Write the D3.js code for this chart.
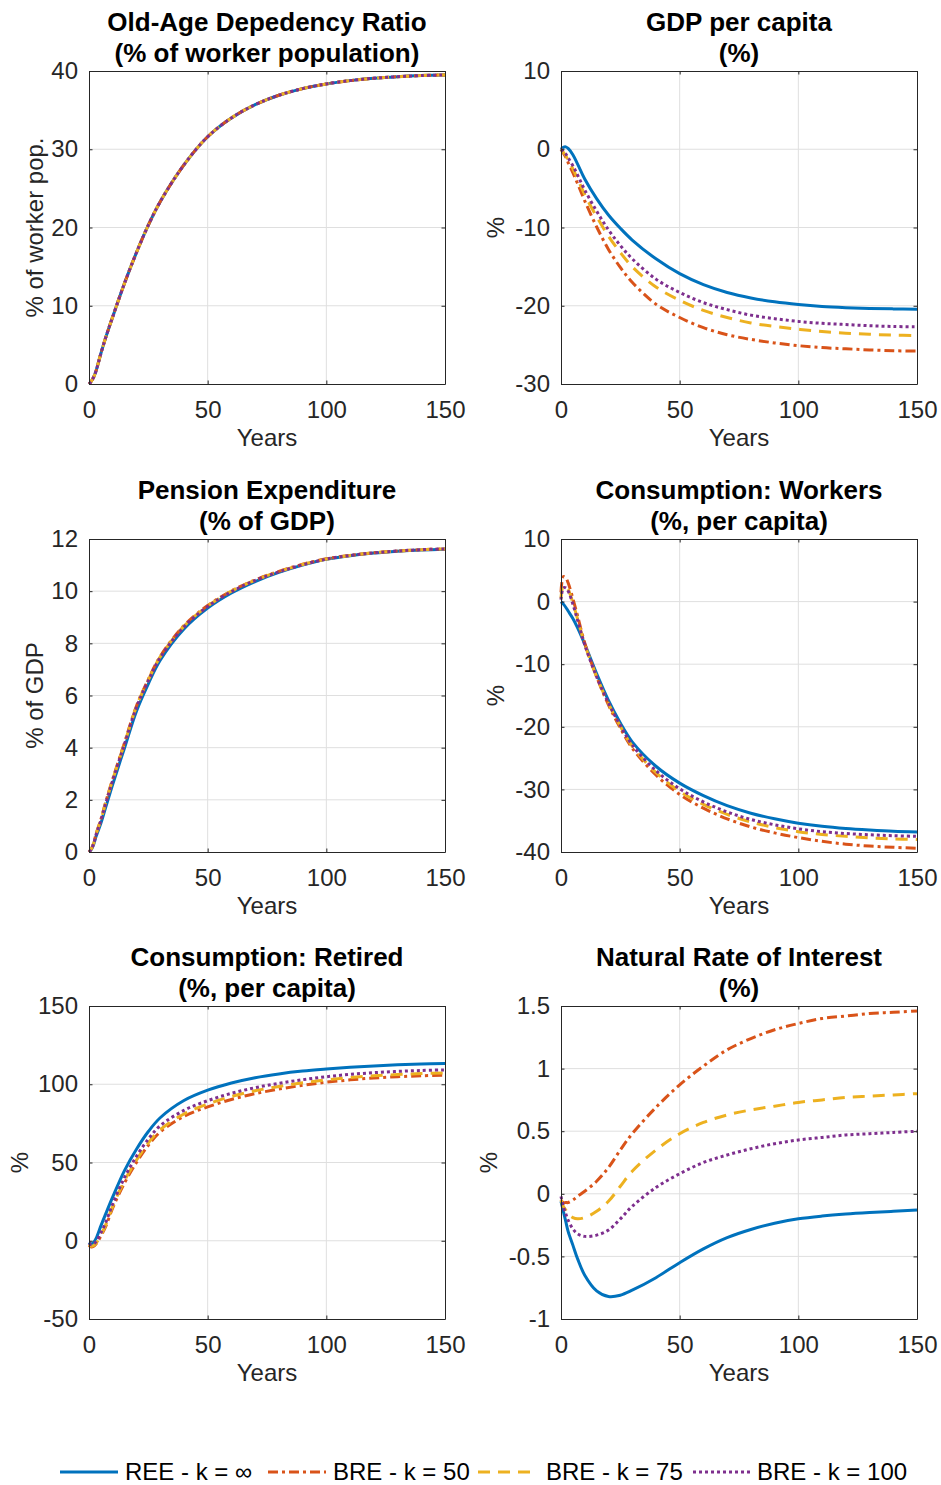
<!DOCTYPE html>
<html>
<head>
<meta charset="utf-8">
<script src="https://cdn.jsdelivr.net/npm/d3@7"></script>
<style>
  body { margin: 0; background: #fff; }
  text { font-family: "Liberation Sans", Arial, sans-serif; }
</style>
</head>
<body>
<div id="chart"></div>
<script>
////////////////////////////////////////////////////////////////////////
// data (years after the shock)

let years = [0, 1, 2, 3, 5, 7, 10, 15, 20, 25, 30, 40, 50, 60, 70, 80, 90, 100, 110, 120, 130, 140, 150];
let xTicks = [0, 50, 100, 150];
let seriesNames = ["REE - k = \u221E", "BRE - k = 50", "BRE - k = 75", "BRE - k = 100"];

// old-age dependency ratio, same path for every model
let oldAge = [0, 0.35, 0.9, 1.7, 3.9, 5.9, 8.6, 12.9, 16.8, 20.3, 23.3, 28.0, 31.6, 34.0, 35.7, 36.9, 37.75, 38.35, 38.77, 39.07, 39.27, 39.41, 39.5];

// gdp per capita
let gdpREE = [0, 0.25, 0.3, 0.1, -0.7, -1.9, -3.8, -6.3, -8.4, -10.1, -11.6, -14.0, -15.9, -17.3, -18.3, -19.0, -19.5, -19.85, -20.1, -20.25, -20.35, -20.4, -20.45];
let gdp50 = [0, -0.5, -1.0, -1.7, -3.0, -4.4, -6.6, -9.9, -12.8, -15.1, -17.0, -19.8, -21.5, -22.8, -23.7, -24.3, -24.75, -25.1, -25.35, -25.5, -25.65, -25.75, -25.8];
let gdp75 = [0, -0.4, -0.8, -1.4, -2.5, -3.8, -5.8, -8.6, -11.1, -13.2, -15.0, -17.6, -19.3, -20.6, -21.5, -22.2, -22.65, -23.0, -23.3, -23.5, -23.65, -23.75, -23.8];
let gdp100 = [0, -0.3, -0.6, -1.1, -2.1, -3.3, -5.2, -7.9, -10.3, -12.3, -14.0, -16.6, -18.3, -19.6, -20.5, -21.2, -21.65, -22.0, -22.25, -22.4, -22.55, -22.65, -22.7];

// pension expenditure
let penREE = [0, 0.1, 0.3, 0.6, 1.1, 1.7, 2.6, 4.0, 5.4, 6.45, 7.35, 8.55, 9.35, 9.93, 10.37, 10.72, 11.0, 11.22, 11.36, 11.46, 11.53, 11.58, 11.61];
let pen50 = [0, 0.12, 0.35, 0.7, 1.25, 1.9, 2.8, 4.2, 5.6, 6.62, 7.5, 8.68, 9.45, 10.01, 10.43, 10.76, 11.03, 11.24, 11.37, 11.47, 11.54, 11.59, 11.62];
let pen75 = [0, 0.12, 0.34, 0.69, 1.23, 1.88, 2.78, 4.18, 5.58, 6.6, 7.48, 8.66, 9.43, 10.0, 10.42, 10.75, 11.02, 11.23, 11.37, 11.47, 11.54, 11.59, 11.62];
let pen100 = [0, 0.11, 0.33, 0.67, 1.21, 1.85, 2.75, 4.15, 5.55, 6.57, 7.45, 8.63, 9.41, 9.98, 10.41, 10.74, 11.01, 11.23, 11.37, 11.47, 11.54, 11.59, 11.62];

// consumption of workers
let cwREE = [0, -0.4, -0.9, -1.5, -2.7, -4.2, -6.8, -11.5, -15.8, -19.4, -22.4, -26.3, -29.0, -31.0, -32.6, -33.8, -34.7, -35.4, -35.9, -36.25, -36.5, -36.7, -36.8];
let cw50 = [1.5, 4.0, 3.8, 3.0, 0.5, -2.3, -6.6, -12.0, -16.5, -20.2, -23.4, -27.7, -30.8, -33.0, -34.7, -36.0, -36.95, -37.7, -38.3, -38.75, -39.05, -39.25, -39.4];
let cw75 = [0.5, 2.6, 2.5, 2.0, -0.2, -2.8, -6.8, -12.0, -16.3, -19.9, -23.1, -27.3, -30.3, -32.4, -34.0, -35.2, -36.1, -36.75, -37.2, -37.5, -37.75, -37.9, -38.0];
let cw100 = [0.3, 2.2, 2.2, 1.7, -0.4, -3.0, -6.9, -12.0, -16.2, -19.8, -22.9, -27.0, -29.9, -32.0, -33.6, -34.8, -35.65, -36.3, -36.75, -37.05, -37.25, -37.4, -37.5];

// consumption of retired
let crREE = [-1, -2, -1, 1.5, 9.5, 17, 28, 45, 58.5, 69.8, 78.6, 89.6, 96.2, 100.8, 104.2, 106.6, 108.4, 109.7, 110.8, 111.7, 112.4, 112.9, 113.2];
let cr50 = [-3, -4, -3.5, -2, 3, 9, 21, 37, 50, 61, 69.5, 79.5, 85.5, 90.3, 94, 96.9, 99.3, 101.3, 102.8, 104, 104.8, 105.4, 105.8];
let cr75 = [-2.5, -3.5, -3, -1.5, 3.5, 10, 22, 38.5, 51.5, 62.5, 71, 81, 87.3, 92.2, 95.8, 98.6, 100.9, 102.8, 104.3, 105.4, 106.2, 106.8, 107.2];
let cr100 = [-1.5, -2.5, -2, -0.5, 5, 11.5, 23.5, 40.5, 54, 65, 73.5, 83.3, 89.5, 94.2, 97.8, 100.6, 102.9, 104.8, 106.3, 107.4, 108.2, 108.8, 109.2];

// natural rate of interest
let rREE = [-0.06, -0.14, -0.22, -0.3, -0.41, -0.52, -0.65, -0.775, -0.82, -0.81, -0.77, -0.67, -0.55, -0.44, -0.35, -0.285, -0.235, -0.2, -0.178, -0.162, -0.15, -0.14, -0.13];
let r50 = [-0.05, -0.07, -0.07, -0.07, -0.05, -0.02, 0.02, 0.1, 0.21, 0.35, 0.48, 0.69, 0.87, 1.02, 1.15, 1.24, 1.31, 1.36, 1.4, 1.42, 1.44, 1.45, 1.46];
let r75 = [-0.05, -0.1, -0.13, -0.16, -0.19, -0.2, -0.19, -0.14, -0.06, 0.06, 0.18, 0.35, 0.48, 0.57, 0.63, 0.67, 0.7, 0.73, 0.75, 0.77, 0.78, 0.79, 0.8];
let r100 = [-0.02, -0.1, -0.16, -0.21, -0.28, -0.32, -0.34, -0.33, -0.29, -0.2, -0.1, 0.05, 0.16, 0.25, 0.31, 0.36, 0.4, 0.43, 0.45, 0.47, 0.48, 0.49, 0.5];

// y ticks of each panel
let ticksOld = [0, 10, 20, 30, 40];
let ticksGdp = [-30, -20, -10, 0, 10];
let ticksPen = [0, 2, 4, 6, 8, 10, 12];
let ticksCw = [-40, -30, -20, -10, 0, 10];
let ticksCr = [-50, 0, 50, 100, 150];
let ticksR = [-1, -0.5, 0, 0.5, 1, 1.5];

////////////////////////////////////////////////////////////////////////
// panels and styles

let panels = [
  { title: ["Old-Age Depedency Ratio", "(% of worker population)"], ylabel: "% of worker pop.", ticks: ticksOld, series: [oldAge, oldAge, oldAge, oldAge], labX: 35 },
  { title: ["GDP per capita", "(%)"], ylabel: "%", ticks: ticksGdp, series: [gdpREE, gdp50, gdp75, gdp100], labX: 496 },
  { title: ["Pension Expenditure", "(% of GDP)"], ylabel: "% of GDP", ticks: ticksPen, series: [penREE, pen50, pen75, pen100], labX: 35 },
  { title: ["Consumption: Workers", "(%, per capita)"], ylabel: "%", ticks: ticksCw, series: [cwREE, cw50, cw75, cw100], labX: 496 },
  { title: ["Consumption: Retired", "(%, per capita)"], ylabel: "%", ticks: ticksCr, series: [crREE, cr50, cr75, cr100], labX: 20 },
  { title: ["Natural Rate of Interest", "(%)"], ylabel: "%", ticks: ticksR, series: [rREE, r50, r75, r100], labX: 489 }
];

let colors = ["#0072BD", "#D95319", "#EDB120", "#7E2F8E"];
let dashes = [null, "10,4,3,4", "12,8", "3,3"];

let width = 941, height = 1485;
let colX = [89, 561], rowY = [71, 539, 1006];
let pw = 356, ph = 313;
let axisColor = "#262626";
let fontSize = "24px";

let svg = d3.select("#chart").append("svg")
  .attr("width", width).attr("height", height);

let xScale = d3.scaleLinear().domain([0, 150]).range([0, pw]);

panels.forEach(function(p, i) {
  let col = i % 2, row = Math.floor(i / 2);
  let g = svg.append("g")
    .attr("transform", "translate(" + colX[col] + "," + rowY[row] + ")");

  let yScale = d3.scaleLinear()
    .domain(d3.extent(p.ticks))
    .range([ph, 0]);

  // grid
  g.append("g").selectAll("line.vgrid")
    .data(xTicks.slice(1, -1)).enter()
    .append("line")
    .attr("x1", d => xScale(d)).attr("x2", d => xScale(d))
    .attr("y1", 0).attr("y2", ph)
    .attr("stroke", "#dfdfdf").attr("stroke-width", 1);
  g.append("g").selectAll("line.hgrid")
    .data(p.ticks.slice(1, -1)).enter()
    .append("line")
    .attr("x1", 0).attr("x2", pw)
    .attr("y1", d => yScale(d)).attr("y2", d => yScale(d))
    .attr("stroke", "#dfdfdf").attr("stroke-width", 1);

  // the four lines
  let line = d3.line()
    .x((d, j) => xScale(years[j]))
    .y(d => yScale(d))
    .curve(d3.curveCatmullRom.alpha(0.5));

  g.append("g").selectAll("path")
    .data(p.series).enter()
    .append("path")
    .attr("d", line)
    .attr("fill", "none")
    .attr("stroke", (d, k) => colors[k])
    .attr("stroke-width", 3)
    .attr("stroke-dasharray", (d, k) => dashes[k]);

  // axes, ticks pointing inward on all four sides like matlab's box
  let tl = 3.5;
  let fmt = d => String(d);
  let axB = g.append("g").attr("transform", "translate(0," + ph + ")")
    .call(d3.axisBottom(xScale).tickValues(xTicks).tickSizeInner(-tl).tickSizeOuter(0).tickPadding(17).tickFormat(fmt));
  let axT = g.append("g")
    .call(d3.axisTop(xScale).tickValues(xTicks).tickSizeInner(-tl).tickSizeOuter(0).tickFormat(""));
  let axL = g.append("g")
    .call(d3.axisLeft(yScale).tickValues(p.ticks).tickSizeInner(-tl).tickSizeOuter(0).tickPadding(11).tickFormat(fmt));
  let axR = g.append("g").attr("transform", "translate(" + pw + ",0)")
    .call(d3.axisRight(yScale).tickValues(p.ticks).tickSizeInner(-tl).tickSizeOuter(0).tickFormat(""));

  [axB, axT, axL, axR].forEach(function(a) {
    a.select(".domain").attr("stroke", axisColor).attr("stroke-width", 1);
    a.selectAll(".tick line").attr("stroke", axisColor);
    a.selectAll(".tick text")
      .attr("fill", axisColor)
      .style("font-family", "'Liberation Sans', Arial, sans-serif")
      .style("font-size", fontSize);
  });
  axB.selectAll(".tick text").attr("dy", "0.71em");

  // x label
  g.append("text")
    .attr("x", pw / 2).attr("y", ph + 62)
    .attr("text-anchor", "middle")
    .attr("fill", axisColor)
    .style("font-size", fontSize)
    .text("Years");

  // y label
  svg.append("text")
    .attr("transform", "translate(" + p.labX + "," + (rowY[row] + ph / 2) + ") rotate(-90)")
    .attr("text-anchor", "middle")
    .attr("dy", "0.35em")
    .attr("fill", axisColor)
    .style("font-size", fontSize)
    .text(p.ylabel);

  // title, two lines
  g.append("g").selectAll("text")
    .data(p.title).enter()
    .append("text")
    .attr("x", pw / 2)
    .attr("y", (d, k) => -40 + k * 31)
    .attr("text-anchor", "middle")
    .attr("fill", "#000")
    .style("font-size", "26px")
    .style("font-weight", "bold")
    .text(d => d);
});

////////////////////////////////////////////////////////////////////////
// legend along the bottom

let legX = [60, 268, 478, 693];
let legText = [125, 333, 546, 757];
let leg = svg.append("g").attr("transform", "translate(0,1472)");
seriesNames.forEach(function(name, k) {
  leg.append("line")
    .attr("x1", legX[k]).attr("x2", legX[k] + 58)
    .attr("y1", 0).attr("y2", 0)
    .attr("stroke", colors[k])
    .attr("stroke-width", 3)
    .attr("stroke-dasharray", dashes[k]);
  leg.append("text")
    .attr("x", legText[k])
    .attr("y", 0)
    .attr("dy", "0.35em")
    .attr("fill", "#000")
    .style("font-size", fontSize)
    .text(name);
});
</script>
</body>
</html>
